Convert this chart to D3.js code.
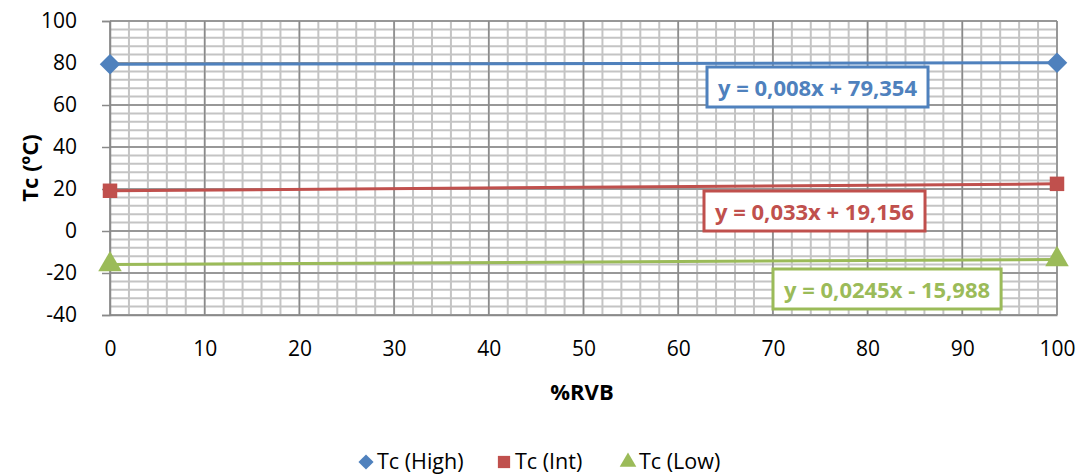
<!DOCTYPE html>
<html>
<head>
<meta charset="utf-8">
<script src="https://cdn.jsdelivr.net/npm/d3@7"></script>
<style>
  html, body { margin: 0; padding: 0; background: #fff; }
  svg { display: block; font-family: "Open Sans", "Liberation Sans", sans-serif; }
</style>
</head>
<body>
<svg id="chart" width="1078" height="476"></svg>
<script>
// Series and their fitted linear trends (Tc = slope * %RVB + intercept)
const seriesNames = ["Tc (High)", "Tc (Int)", "Tc (Low)"];
const slopes      = [0.008, 0.033, 0.0245];
const intercepts  = [79.354, 19.156, -15.988];
const xSamples    = [0, 100];
const equations   = ["y = 0,008x + 79,354", "y = 0,033x + 19,156", "y = 0,0245x - 15,988"];
const xTicks = [0, 10, 20, 30, 40, 50, 60, 70, 80, 90, 100];
const yTicks = [-40, -20, 0, 20, 40, 60, 80, 100];

const colors  = ["#4F81BD", "#C0504D", "#9BBB59"];
// marker shapes: square rotated 45° gives the diamond
const shapes  = [d3.symbolSquare, d3.symbolSquare, d3.symbolTriangle];
const rotations = [45, 0, 0];
// equation box placement (left, top) in pixels
const boxPos  = [[707, 67], [704, 191], [773, 269]];

const svg = d3.select("#chart");
const m = { left: 110, right: 1057, top: 21, bottom: 315 };

const x = d3.scaleLinear().domain([0, 100]).range([m.left, m.right]);
const y = d3.scaleLinear().domain([-40, 100]).range([m.bottom, m.top]);

// minor gridlines
const g = svg.append("g");
g.selectAll(".vmin").data(d3.range(0, 101, 2)).join("line")
  .attr("x1", d => x(d)).attr("x2", d => x(d))
  .attr("y1", m.top).attr("y2", m.bottom)
  .attr("stroke", "#C4C4C4").attr("stroke-width", 2);
g.selectAll(".hmin").data(d3.range(-40, 101, 4)).join("line")
  .attr("x1", m.left).attr("x2", m.right)
  .attr("y1", d => y(d)).attr("y2", d => y(d))
  .attr("stroke", "#C4C4C4").attr("stroke-width", 2);
// major gridlines
g.selectAll(".vmaj").data(xTicks).join("line")
  .attr("x1", d => x(d)).attr("x2", d => x(d))
  .attr("y1", m.top).attr("y2", m.bottom)
  .attr("stroke", "#8A8A8A").attr("stroke-width", 1.5);
g.selectAll(".hmaj").data(yTicks).join("line")
  .attr("x1", m.left).attr("x2", m.right)
  .attr("y1", d => y(d)).attr("y2", d => y(d))
  .attr("stroke", "#8A8A8A").attr("stroke-width", 1.5);

const fmt = d => String(d);

// y axis
const yAxis = svg.append("g").attr("transform", `translate(${m.left},0)`)
  .call(d3.axisLeft(y).tickValues(yTicks).tickFormat(fmt).tickSize(8).tickPadding(25));
yAxis.select(".domain").attr("stroke", "#8A8A8A").attr("stroke-width", 1.5);
yAxis.selectAll(".tick line").attr("stroke", "#8A8A8A").attr("stroke-width", 1.5);
yAxis.selectAll("text").attr("font-size", 21).attr("fill", "#000")
  .attr("font-family", "'Open Sans', sans-serif");

// x axis
const xAxis = svg.append("g").attr("transform", `translate(0,${m.bottom})`)
  .call(d3.axisBottom(x).tickValues(xTicks).tickFormat(fmt).tickSize(0).tickPadding(26));
xAxis.select(".domain").attr("stroke", "#8A8A8A").attr("stroke-width", 1.5);
xAxis.selectAll("text").attr("font-size", 21).attr("fill", "#000")
  .attr("font-family", "'Open Sans', sans-serif");

// axis titles
svg.append("text").attr("x", 582).attr("y", 400)
  .attr("text-anchor", "middle").attr("font-size", 22).attr("font-weight", "bold")
  .text("%RVB");
svg.append("text").attr("transform", "translate(38,168) rotate(-90)")
  .attr("text-anchor", "middle").attr("font-size", 22).attr("font-weight", "bold")
  .text("Tc (ºC)");

// series lines and markers
seriesNames.forEach((name, i) => {
  const pts = xSamples.map(v => [v, slopes[i] * v + intercepts[i]]);
  svg.append("path")
    .attr("d", d3.line().x(d => x(d[0])).y(d => y(d[1]))(pts))
    .attr("stroke", colors[i]).attr("stroke-width", 3).attr("fill", "none");
  svg.selectAll(null).data(pts).join("path")
    .attr("transform", d => `translate(${x(d[0])},${y(d[1])}) rotate(${rotations[i]})`)
    .attr("d", d3.symbol().type(shapes[i]).size(i === 0 ? 210 : i === 1 ? 210 : 240))
    .attr("fill", colors[i]);
});

// equation labels
equations.forEach((eq, i) => {
  const [bx, by] = boxPos[i];
  const grp = svg.append("g");
  const t = grp.append("text")
    .attr("font-size", 22).attr("font-weight", "bold").attr("fill", colors[i])
    .attr("x", bx + 11).attr("y", by + 29).text(eq);
  const w = t.node().getComputedTextLength();
  grp.insert("rect", "text")
    .attr("x", bx).attr("y", by).attr("width", w + 22).attr("height", 40)
    .attr("fill", "#fff").attr("stroke", colors[i]).attr("stroke-width", 3);
});

// legend
const legend = svg.append("g");
const legX = [366, 504, 628];
seriesNames.forEach((name, i) => {
  legend.append("path")
    .attr("transform", `translate(${legX[i]},462) rotate(${rotations[i]})`)
    .attr("d", d3.symbol().type(shapes[i]).size(i === 0 ? 115 : i === 1 ? 150 : 120))
    .attr("fill", colors[i]);
  legend.append("text").attr("x", legX[i] + 11).attr("y", 469)
    .attr("font-size", 21.5).attr("fill", "#000").text(name);
});
</script>
</body>
</html>
